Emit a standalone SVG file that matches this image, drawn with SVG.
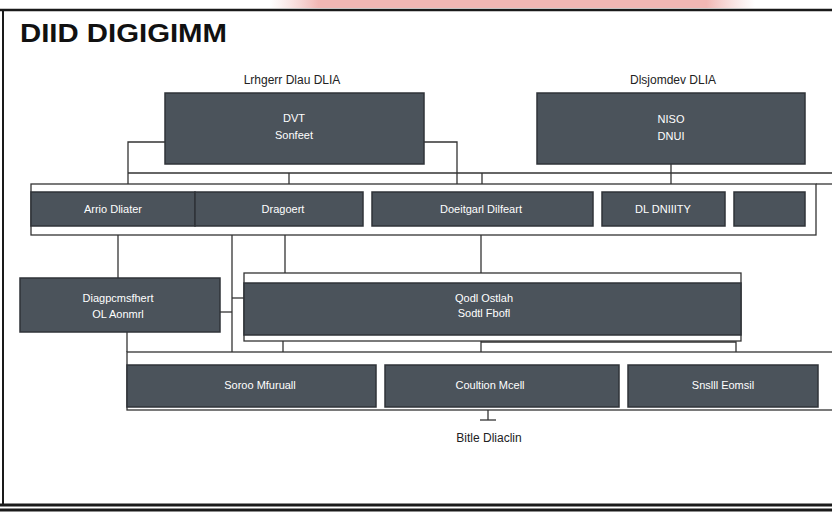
<svg xmlns="http://www.w3.org/2000/svg" width="832" height="512" viewBox="0 0 832 512">
<defs>
<linearGradient id="pink" x1="0" x2="1" y1="0" y2="0">
<stop offset="0" stop-color="#f3c9c7" stop-opacity="0"/>
<stop offset="0.1" stop-color="#f1b7b4"/>
<stop offset="0.9" stop-color="#f1b7b4"/>
<stop offset="1" stop-color="#f3c9c7" stop-opacity="0"/>
</linearGradient>
</defs>
<style>
.box{fill:#4b535b;stroke:#2f3338;stroke-width:1.5}
.band{fill:#fff;stroke:#333;stroke-width:1.3}
.ln{fill:none;stroke:#333;stroke-width:1.3}
.t{font-family:"Liberation Sans",Arial,sans-serif;font-size:11px;fill:#fff;text-anchor:middle}
.lab{font-family:"Liberation Sans",Arial,sans-serif;font-size:12px;fill:#222;text-anchor:middle}
</style>
<rect width="832" height="512" fill="#fff"/>
<rect x="270" y="0" width="485" height="8" fill="url(#pink)"/>
<g id="frame" fill="none" stroke="#1a1a1a">
<line x1="0" y1="10" x2="832" y2="10" stroke-width="2.5"/>
<line x1="3" y1="10" x2="3" y2="505" stroke-width="2"/>
<line x1="0" y1="505" x2="832" y2="505" stroke-width="3"/>
<line x1="0" y1="510" x2="832" y2="510" stroke-width="3"/>
</g>
<text x="20" y="42" font-family="Liberation Sans,Arial,sans-serif" font-size="25" font-weight="bold" fill="#111" textLength="207" lengthAdjust="spacingAndGlyphs">DIID DIGIGIMM</text>
<text class="lab" x="292" y="84">Lrhgerr Dlau DLIA</text>
<text class="lab" x="673" y="84">Dlsjomdev DLIA</text>

<g id="connectors" class="ln">
<polyline points="165,142 128,142 128,184"/>
<polyline points="424,142 457,142 457,184"/>
<line x1="128" y1="173" x2="832" y2="173"/>
<line x1="289" y1="173" x2="289" y2="184"/>
<line x1="482" y1="173" x2="482" y2="184"/>
<line x1="671" y1="164" x2="671" y2="184"/>
<line x1="816" y1="184" x2="832" y2="184"/>
<line x1="118" y1="235" x2="118" y2="278"/>
<line x1="232" y1="235" x2="232" y2="352"/>
<line x1="285" y1="235" x2="285" y2="273"/>
<line x1="481" y1="235" x2="481" y2="273"/>
<line x1="670" y1="226" x2="670" y2="235"/>
<polyline points="220,312 232,312"/>
<polyline points="232,298 244,298"/>
<line x1="127" y1="332" x2="127" y2="352"/>
<line x1="283" y1="341" x2="283" y2="365"/>
<polyline points="481,341 481,352"/>
<polyline points="481,342 736,342 736,365"/>
<line x1="487" y1="352" x2="487" y2="365"/>
<line x1="750" y1="352" x2="750" y2="365"/>
<line x1="488" y1="410" x2="488" y2="420"/>
<line x1="480" y1="420" x2="496" y2="420"/>
</g>

<g id="band1"><rect class="band" x="31" y="184" width="785" height="51"/></g>
<g id="band2"><rect class="band" x="244" y="273" width="497" height="68"/></g>
<g id="band3"><rect class="band" x="127" y="352" width="710" height="58"/></g>

<g id="n1"><rect class="box" x="165" y="93" width="259" height="71"/><text class="t" x="294" y="122">DVT</text><text class="t" x="294" y="139">Sonfeet</text></g>
<g id="n2"><rect class="box" x="537" y="93" width="268" height="71"/><text class="t" x="671" y="123">NISO</text><text class="t" x="671" y="140">DNUI</text></g>
<g id="n3"><rect class="box" x="31" y="192" width="164" height="34"/><text class="t" x="113" y="213">Arrio Dliater</text></g>
<g id="n4"><rect class="box" x="195" y="192" width="168" height="34"/><text class="t" x="283" y="213">Dragoert</text></g>
<g id="n5"><rect class="box" x="372" y="192" width="221" height="34"/><text class="t" x="481" y="213">Doeitgarl Dilfeart</text></g>
<g id="n6"><rect class="box" x="602" y="192" width="123" height="34"/><text class="t" x="663" y="213">DL DNIIITY</text></g>
<g id="n7"><rect class="box" x="734" y="192" width="71" height="34"/></g>
<g id="n8"><rect class="box" x="20" y="278" width="200" height="54"/><text class="t" x="118" y="302">Diagpcmsfhert</text><text class="t" x="118" y="318">OL Aonmrl</text></g>
<g id="n9"><rect class="box" x="244" y="283" width="497" height="52"/><text class="t" x="484" y="302">Qodl Ostlah</text><text class="t" x="484" y="317">Sodtl Fbofl</text></g>
<g id="n10"><rect class="box" x="127" y="365" width="249" height="42"/><text class="t" x="260" y="389">Soroo Mfuruall</text></g>
<g id="n11"><rect class="box" x="385" y="365" width="234" height="42"/><text class="t" x="490" y="389">Coultion Mcell</text></g>
<g id="n12"><rect class="box" x="628" y="365" width="190" height="42"/><text class="t" x="723" y="389">Snslll Eomsil</text></g>

<text class="lab" x="489" y="442" font-size="12">Bitle Dliaclin</text>
</svg>
